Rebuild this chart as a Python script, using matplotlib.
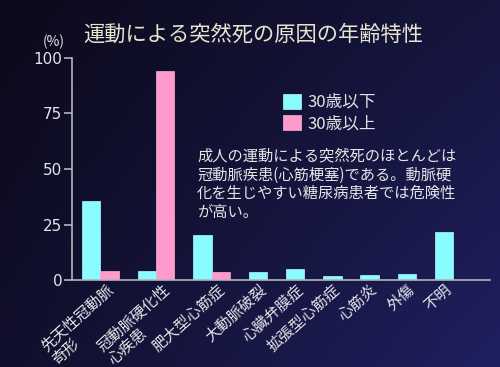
import numpy as np
import matplotlib.pyplot as plt

plt.rcParams['font.family'] = ['Noto Sans CJK JP', 'DejaVu Sans']

# data
categories = ['先天性冠動脈\n奇形', '冠動脈硬化性\n心疾患', '肥大型心筋症', '大動脈破裂',
              '心臓弁膜症', '拡張型心筋症', '心筋炎', '外傷', '不明']
under30 = [35.5, 4.0, 20.5, 3.5, 5.0, 2.0, 2.2, 2.6, 21.5]
over30 = [4.0, 94.0, 3.5, None, None, None, None, None, None]
yticks = [0, 25, 50, 75, 100]

title = '運動による突然死の原因の年齢特性'
note = ('成人の運動による突然死のほとんどは\n'
        '冠動脈疾患(心筋梗塞)である。動脈硬\n'
        '化を生じやすい糖尿病患者では危険性\n'
        'が高い。')

cyan = '#88fcff'
pink = '#ff9acc'
txt = '#e4e4e8'
axcol = '#b4b4bc'

fig = plt.figure(figsize=(5, 3.67), dpi=100)

# background gradient
bg = fig.add_axes([0, 0, 1, 1], zorder=-5)
c_tl = np.array([11, 10, 26]) / 255
c_tr = np.array([22, 21, 62]) / 255
c_bl = np.array([17, 15, 44]) / 255
c_br = np.array([31, 32, 96]) / 255
u = np.linspace(0, 1, 200)[None, :, None]
v = np.linspace(0, 1, 150)[:, None, None]
img = (1 - v) * ((1 - u) * c_tl + u * c_tr) + v * ((1 - u) * c_bl + u * c_br)
bg.imshow(img, aspect='auto', extent=(0, 1, 0, 1))
bg.axis('off')

ax = fig.add_axes([0.144, 0.237, 0.836, 0.605])
ax.set_facecolor('none')

# bar positions: groups with one or two bars
x = 0.54
gap = 1.02
xc, xp, centers = [], [], []
for a, b in zip(under30, over30):
    xc.append(x)
    if b is None:
        centers.append(x + 0.5)
        x += 1 + gap
    else:
        xp.append(x + 1)
        centers.append(x + 1.3)
        x += 2 + gap

p_vals = [b for b in over30 if b is not None]
ax.bar(xc, under30, width=1, align='edge', color=cyan, edgecolor='#aaffff',
       linewidth=0.5, label='30歳以下')
ax.bar(xp, p_vals, width=1, align='edge', color=pink, edgecolor='#ffb0d8',
       linewidth=0.5, label='30歳以上')

ax.set_xlim(0, 22.7)
ax.set_ylim(0, 100)
ax.set_yticks(yticks)
ax.set_yticklabels([str(t) for t in yticks], family='DejaVu Sans')
ax.set_xticks(centers)
ax.set_xticklabels(categories, rotation=42, ha='right', va='top',
                   rotation_mode='anchor', fontsize=11, color=txt,
                   multialignment='left', linespacing=1.0)
ax.tick_params(axis='x', length=0, pad=1)
ax.tick_params(axis='y', length=6, width=1.2, color=axcol, labelsize=11,
               labelcolor=txt, pad=1)
for s in ['top', 'right']:
    ax.spines[s].set_visible(False)
for s in ['left', 'bottom']:
    ax.spines[s].set_color(axcol)
    ax.spines[s].set_linewidth(1.2)

ax.legend(loc='upper left', bbox_to_anchor=(0.566, 0.745),
          bbox_transform=fig.transFigure, frameon=False, fontsize=12,
          labelcolor=txt, handlelength=1.05, handleheight=1.0,
          handletextpad=0.4, labelspacing=0.25, borderpad=0, borderaxespad=0)

fig.text(0.166, 0.905, title, fontsize=15.3, color='#e8e4d0', va='center')
fig.text(0.108, 0.886, '(%)', fontsize=10, color=txt, ha='center', va='center')
fig.text(0.394, 0.597, note, fontsize=11, color=txt, va='top', linespacing=1.12)

fig.savefig('out.png', dpi=100)
